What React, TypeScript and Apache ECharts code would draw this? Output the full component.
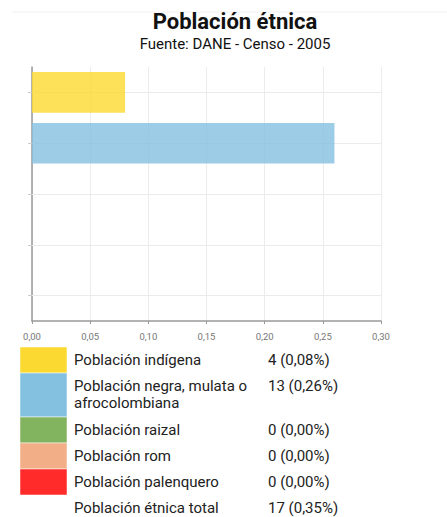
import React, { useEffect, useRef } from "react";
import * as echarts from "echarts";

const titleText = "Población étnica";
const subtitleText = "Fuente: DANE - Censo - 2005";
const categories = [
  "Población indígena",
  "Población negra, mulata o afrocolombiana",
  "Población raizal",
  "Población rom",
  "Población palenquero",
];
const counts = [4, 13, 0, 0, 0];
const percents = [0.08, 0.26, 0, 0, 0];
const totalLabel = "Población étnica total";
const totalCount = 17;
const totalPercent = 0.35;
const xTicks = [0, 0.05, 0.1, 0.15, 0.2, 0.25, 0.3];

const palette = ["#FBD930", "#84C1E0", "#82B460", "#F2AE87", "#FF2B2B"];

const fmt = (v: number) => v.toFixed(2).replace(".", ",");

export default function App() {
  const ref = useRef<HTMLDivElement>(null);
  useEffect(() => {
    const chart = echarts.init(ref.current!, null, { renderer: "svg" });
    const font = "Roboto, 'Noto Sans', sans-serif";

    const graphics: any[] = [
      {
        type: "line",
        shape: { x1: 12, y1: 12, x2: 447, y2: 12 },
        style: { stroke: "#f0f0f0", lineWidth: 1 },
      },
      {
        type: "text",
        x: 235,
        y: 21,
        style: {
          text: titleText,
          font: `bold 22px ${font}`,
          fill: "#111",
          align: "center",
          verticalAlign: "middle",
        },
      },
      {
        type: "text",
        x: 235,
        y: 44,
        style: {
          text: subtitleText,
          font: `15px ${font}`,
          fill: "#111",
          align: "center",
          verticalAlign: "middle",
        },
      },
    ];

    const tFont = `15px ${font}`;
    let top = 347;
    categories.forEach((c, i) => {
      const label = c.replace(", mulata o ", ", mulata o\n");
      const lines = label.split("\n").length;
      const h = lines > 1 ? 44 : 26;
      graphics.push({
        type: "rect",
        shape: { x: 20, y: top, width: 47, height: h },
        style: { fill: palette[i], stroke: "#fff", lineWidth: 0.5 },
      });
      graphics.push({
        type: "text",
        x: 74,
        y: top + 4,
        style: { text: label, font: tFont, lineHeight: 17, fill: "#222", verticalAlign: "top" },
      });
      graphics.push({
        type: "text",
        x: 268,
        y: top + 4,
        style: {
          text: `${counts[i]} (${fmt(percents[i])}%)`,
          font: tFont,
          lineHeight: 17,
          fill: "#222",
          verticalAlign: "top",
        },
      });
      top += h;
    });
    graphics.push({
      type: "text",
      x: 74,
      y: top + 4,
      style: { text: totalLabel, font: tFont, lineHeight: 17, fill: "#222", verticalAlign: "top" },
    });
    graphics.push({
      type: "text",
      x: 268,
      y: top + 4,
      style: {
        text: `${totalCount} (${fmt(totalPercent)}%)`,
        font: tFont,
        lineHeight: 17,
        fill: "#222",
        verticalAlign: "top",
      },
    });

    chart.setOption({
      animation: false,
      grid: { left: 32, right: 66, top: 67, bottom: 196, containLabel: false },
      xAxis: {
        type: "value",
        min: xTicks[0],
        max: xTicks[xTicks.length - 1],
        interval: 0.05,
        axisLine: { show: true, lineStyle: { color: "#999", width: 1.5 } },
        axisTick: { show: true, length: 3, lineStyle: { color: "#999" } },
        axisLabel: {
          formatter: (v: number) => fmt(v),
          fontSize: 9.5,
          color: "#777",
          fontFamily: font,
          margin: 10,
        },
        splitLine: { show: true, lineStyle: { color: "#ececec" } },
      },
      yAxis: {
        type: "category",
        data: categories,
        inverse: true,
        axisLine: { show: true, lineStyle: { color: "#999", width: 1.5 } },
        axisTick: { show: true, alignWithLabel: true, length: 4, lineStyle: { color: "#ccc" } },
        axisLabel: { show: false },
        splitLine: { show: false },
      },
      series: [
        {
          type: "bar",
          barWidth: "80%",
          data: percents.map((v, i) => ({
            value: v,
            itemStyle: { color: palette[i], opacity: 0.8 },
          })),
          z: 3,
          markLine: {
            silent: true,
            z: 1,
            symbol: "none",
            label: { show: false },
            lineStyle: { color: "#ebebeb", type: "solid", width: 1 },
            data: categories.map((c) => ({ yAxis: c })),
          },
        },
      ],
      graphic: graphics,
    });
    return () => chart.dispose();
  }, []);
  return (
    <div
      ref={ref}
      style={{ position: "fixed", left: 0, top: 0, width: 447, height: 517, background: "#fff" }}
    />
  );
}
